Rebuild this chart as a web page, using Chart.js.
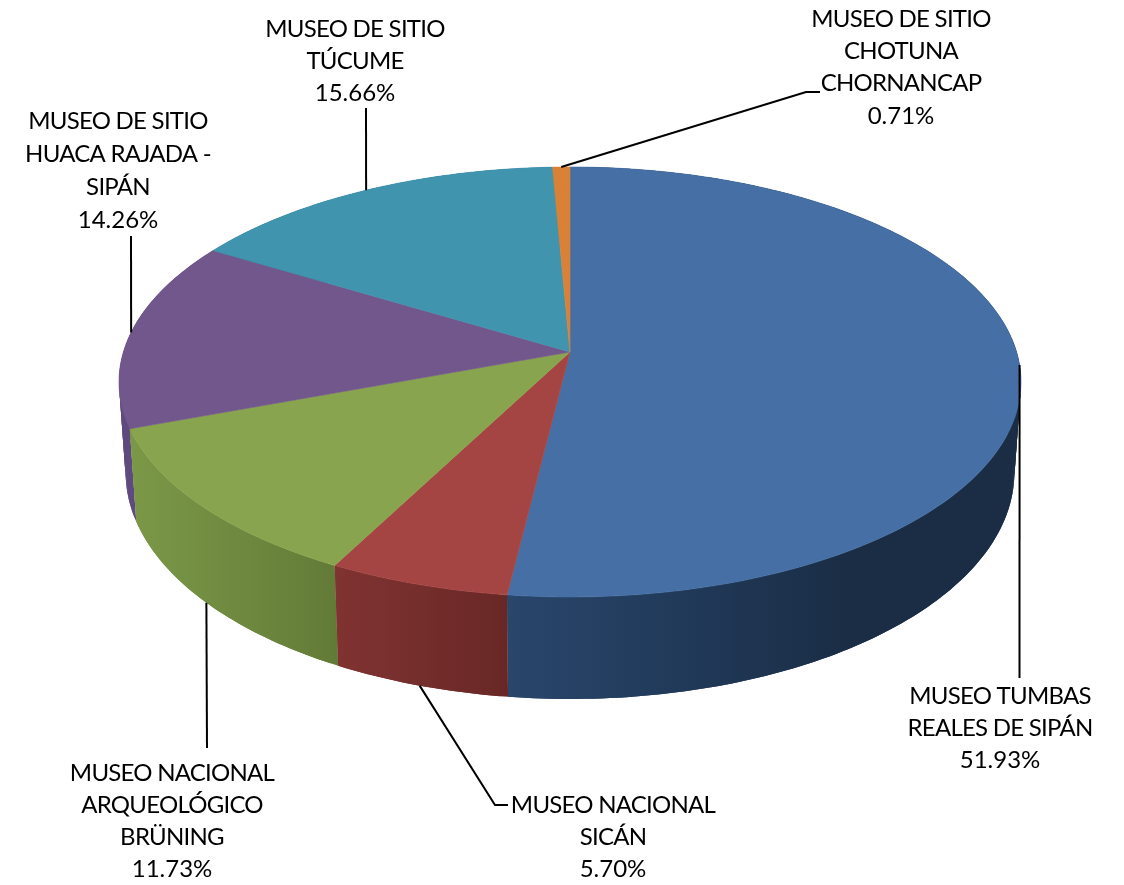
<!DOCTYPE html>
<html>
<head>
    <meta charset="utf-8">
    <script src="https://cdn.jsdelivr.net/npm/chart.js"></script>
    <title>Museos</title>
    <style>
      html, body {
        margin: 0;
        background: #fff;
      }
      canvas {
        display: block;
      }
    </style>
</head>
<body>
    <canvas id="canvasChart" width="1124" height="885"></canvas>
    <script>
      const categories = [
        ['MUSEO TUMBAS', 'REALES DE SIPÁN'],
        ['MUSEO NACIONAL', 'SICÁN'],
        ['MUSEO NACIONAL', 'ARQUEOLÓGICO', 'BRÜNING'],
        ['MUSEO DE SITIO', 'HUACA RAJADA -', 'SIPÁN'],
        ['MUSEO DE SITIO', 'TÚCUME'],
        ['MUSEO DE SITIO', 'CHOTUNA', 'CHORNANCAP']
      ];
      const shares = [51.93, 5.70, 11.73, 14.26, 15.66, 0.71];

      const topColors = ['#4670a5', '#a54543', '#89a44e', '#72578c', '#4094ae', '#da8138'];
      const wallColors = [
        ['#29466b', '#213a5a', '#1a2d45'],
        ['#803331', '#742e2c', '#682725'],
        ['#7b9847', '#6f8a40', '#627a37'],
        ['#5e4a7e', '#5e4a7e', '#5e4a7e'],
        ['#357a90', '#357a90', '#357a90'],
        ['#b56a2c', '#b56a2c', '#b56a2c']
      ];

      // perspective of the disc: the apex sits above the ellipse centre
      const view = {
        cx: 570, topY: 352, topA: 210.8, topB: 446.6,
        baseY: 441, baseA: 222, baseB: 440, k: 0.1395
      };

      // where each label sits and where its leader ends
      const labelLayout = [
        {x: 1000, y: 696, step: 32, leader: [[1019.5, 678]], fromBase: false},
        {x: 613, y: 805, step: 32, leader: [[495, 805], [508, 805]], fromBase: true},
        {x: 172, y: 773, step: 32, leader: [[207, 748]], fromBase: true},
        {x: 118, y: 121, step: 33, leader: [[131, 236]], fromBase: false},
        {x: 355, y: 29, step: 32, leader: [[366, 108]], fromBase: false},
        {x: 901, y: 19, step: 32.3, leader: [[806, 92], [820, 92]], fromBase: false}
      ];

      function topPoint(a) {
        const u = Math.cos(a), v = Math.sin(a), d = 1 - view.k * v;
        return [view.cx + view.topB * u / d, view.topY + view.topA * v / d];
      }

      function basePoint(a) {
        const u = Math.cos(a), v = Math.sin(a), d = 1 - view.k * v;
        return [view.cx + view.baseB * u / d, view.baseY + view.baseA * v / d];
      }

      function rimAngles(arc) {
        const list = [];
        const n = Math.max(4, Math.ceil((arc.endAngle - arc.startAngle) * 60));
        for (let i = 0; i <= n; i++) {
          list.push(arc.startAngle + (arc.endAngle - arc.startAngle) * i / n);
        }
        return list;
      }

      function drawWall(ctx, arc, i) {
        const angles = rimAngles(arc);
        const top = angles.map(topPoint);
        const base = angles.map(basePoint);
        const xs = top.concat(base).map(p => p[0]);
        const left = Math.min(...xs), right = Math.max(...xs);
        const grad = ctx.createLinearGradient(left, 0, i === 0 ? left + 340 : right, 0);
        grad.addColorStop(0, wallColors[i][0]);
        grad.addColorStop(0.5, wallColors[i][1]);
        grad.addColorStop(1, wallColors[i][2]);
        ctx.fillStyle = grad;
        // each strip spans two steps so its edges land inside the next one, no seams
        for (let j = 0; j < angles.length - 1; j++) {
          const next = Math.min(j + 2, angles.length - 1);
          ctx.beginPath();
          ctx.moveTo(top[j][0], top[j][1]);
          ctx.lineTo(top[j + 1][0], top[j + 1][1]);
          ctx.lineTo(top[next][0], top[next][1]);
          ctx.lineTo(base[next][0], base[next][1]);
          ctx.lineTo(base[j + 1][0], base[j + 1][1]);
          ctx.lineTo(base[j][0], base[j][1]);
          ctx.closePath();
          ctx.fill();
        }
      }

      function drawFace(ctx, arc, i) {
        ctx.beginPath();
        ctx.moveTo(view.cx, view.topY);
        rimAngles(arc).map(topPoint).forEach(p => ctx.lineTo(p[0], p[1]));
        ctx.closePath();
        ctx.fillStyle = topColors[i];
        ctx.strokeStyle = topColors[i];
        ctx.lineWidth = 0.6;
        ctx.fill();
        ctx.stroke();
      }

      const tiltedPie = {
        id: 'tiltedPie',
        // replaces the flat arcs, the angles still come from the pie controller
        beforeDatasetsDraw(chart) {
          const ctx = chart.ctx;
          const arcs = chart.getDatasetMeta(0).data;
          const order = arcs.map((a, i) => i).sort((p, q) => {
            const mid = a => Math.sin((arcs[a].startAngle + arcs[a].endAngle) / 2);
            return mid(p) - mid(q);
          });
          ctx.save();
          order.forEach(i => drawWall(ctx, arcs[i], i));
          arcs.forEach((arc, i) => drawFace(ctx, arc, i));
          ctx.restore();
          return false;
        },
        afterDraw(chart) {
          const ctx = chart.ctx;
          const arcs = chart.getDatasetMeta(0).data;
          ctx.save();
          arcs.forEach((arc, i) => {
            const place = labelLayout[i];
            const mid = (arc.startAngle + arc.endAngle) / 2;
            const start = place.fromBase ? basePoint(mid) : topPoint(mid);
            ctx.beginPath();
            ctx.moveTo(start[0], start[1]);
            place.leader.forEach(p => ctx.lineTo(p[0], p[1]));
            ctx.strokeStyle = '#000';
            ctx.lineWidth = 2;
            ctx.stroke();

            ctx.font = '24px Lato';
            ctx.fillStyle = '#000';
            ctx.textAlign = 'center';
            ctx.textBaseline = 'middle';
            // Lato capitals run wider than the original face
            ctx.letterSpacing = '-0.75px';
            categories[i].forEach((line, j) => ctx.fillText(line, place.x, place.y + j * place.step));
            ctx.letterSpacing = '0px';
            const pct = shares[i].toFixed(2) + '%';
            ctx.fillText(pct, place.x, place.y + categories[i].length * place.step);
          });
          ctx.restore();
        }
      };

      const ctx = document.getElementById('canvasChart').getContext('2d');
      const myChart = new Chart(ctx, {
        type: 'pie',
        data: {
          labels: categories.map(c => c.join(' ')),
          datasets: [{data: shares, backgroundColor: topColors, borderWidth: 0}]
        },
        options: {
          responsive: false,
          animation: false,
          plugins: {
            legend: {display: false},
            tooltip: {enabled: false}
          }
        },
        plugins: [tiltedPie]
      });
    </script>
</body>
</html>
